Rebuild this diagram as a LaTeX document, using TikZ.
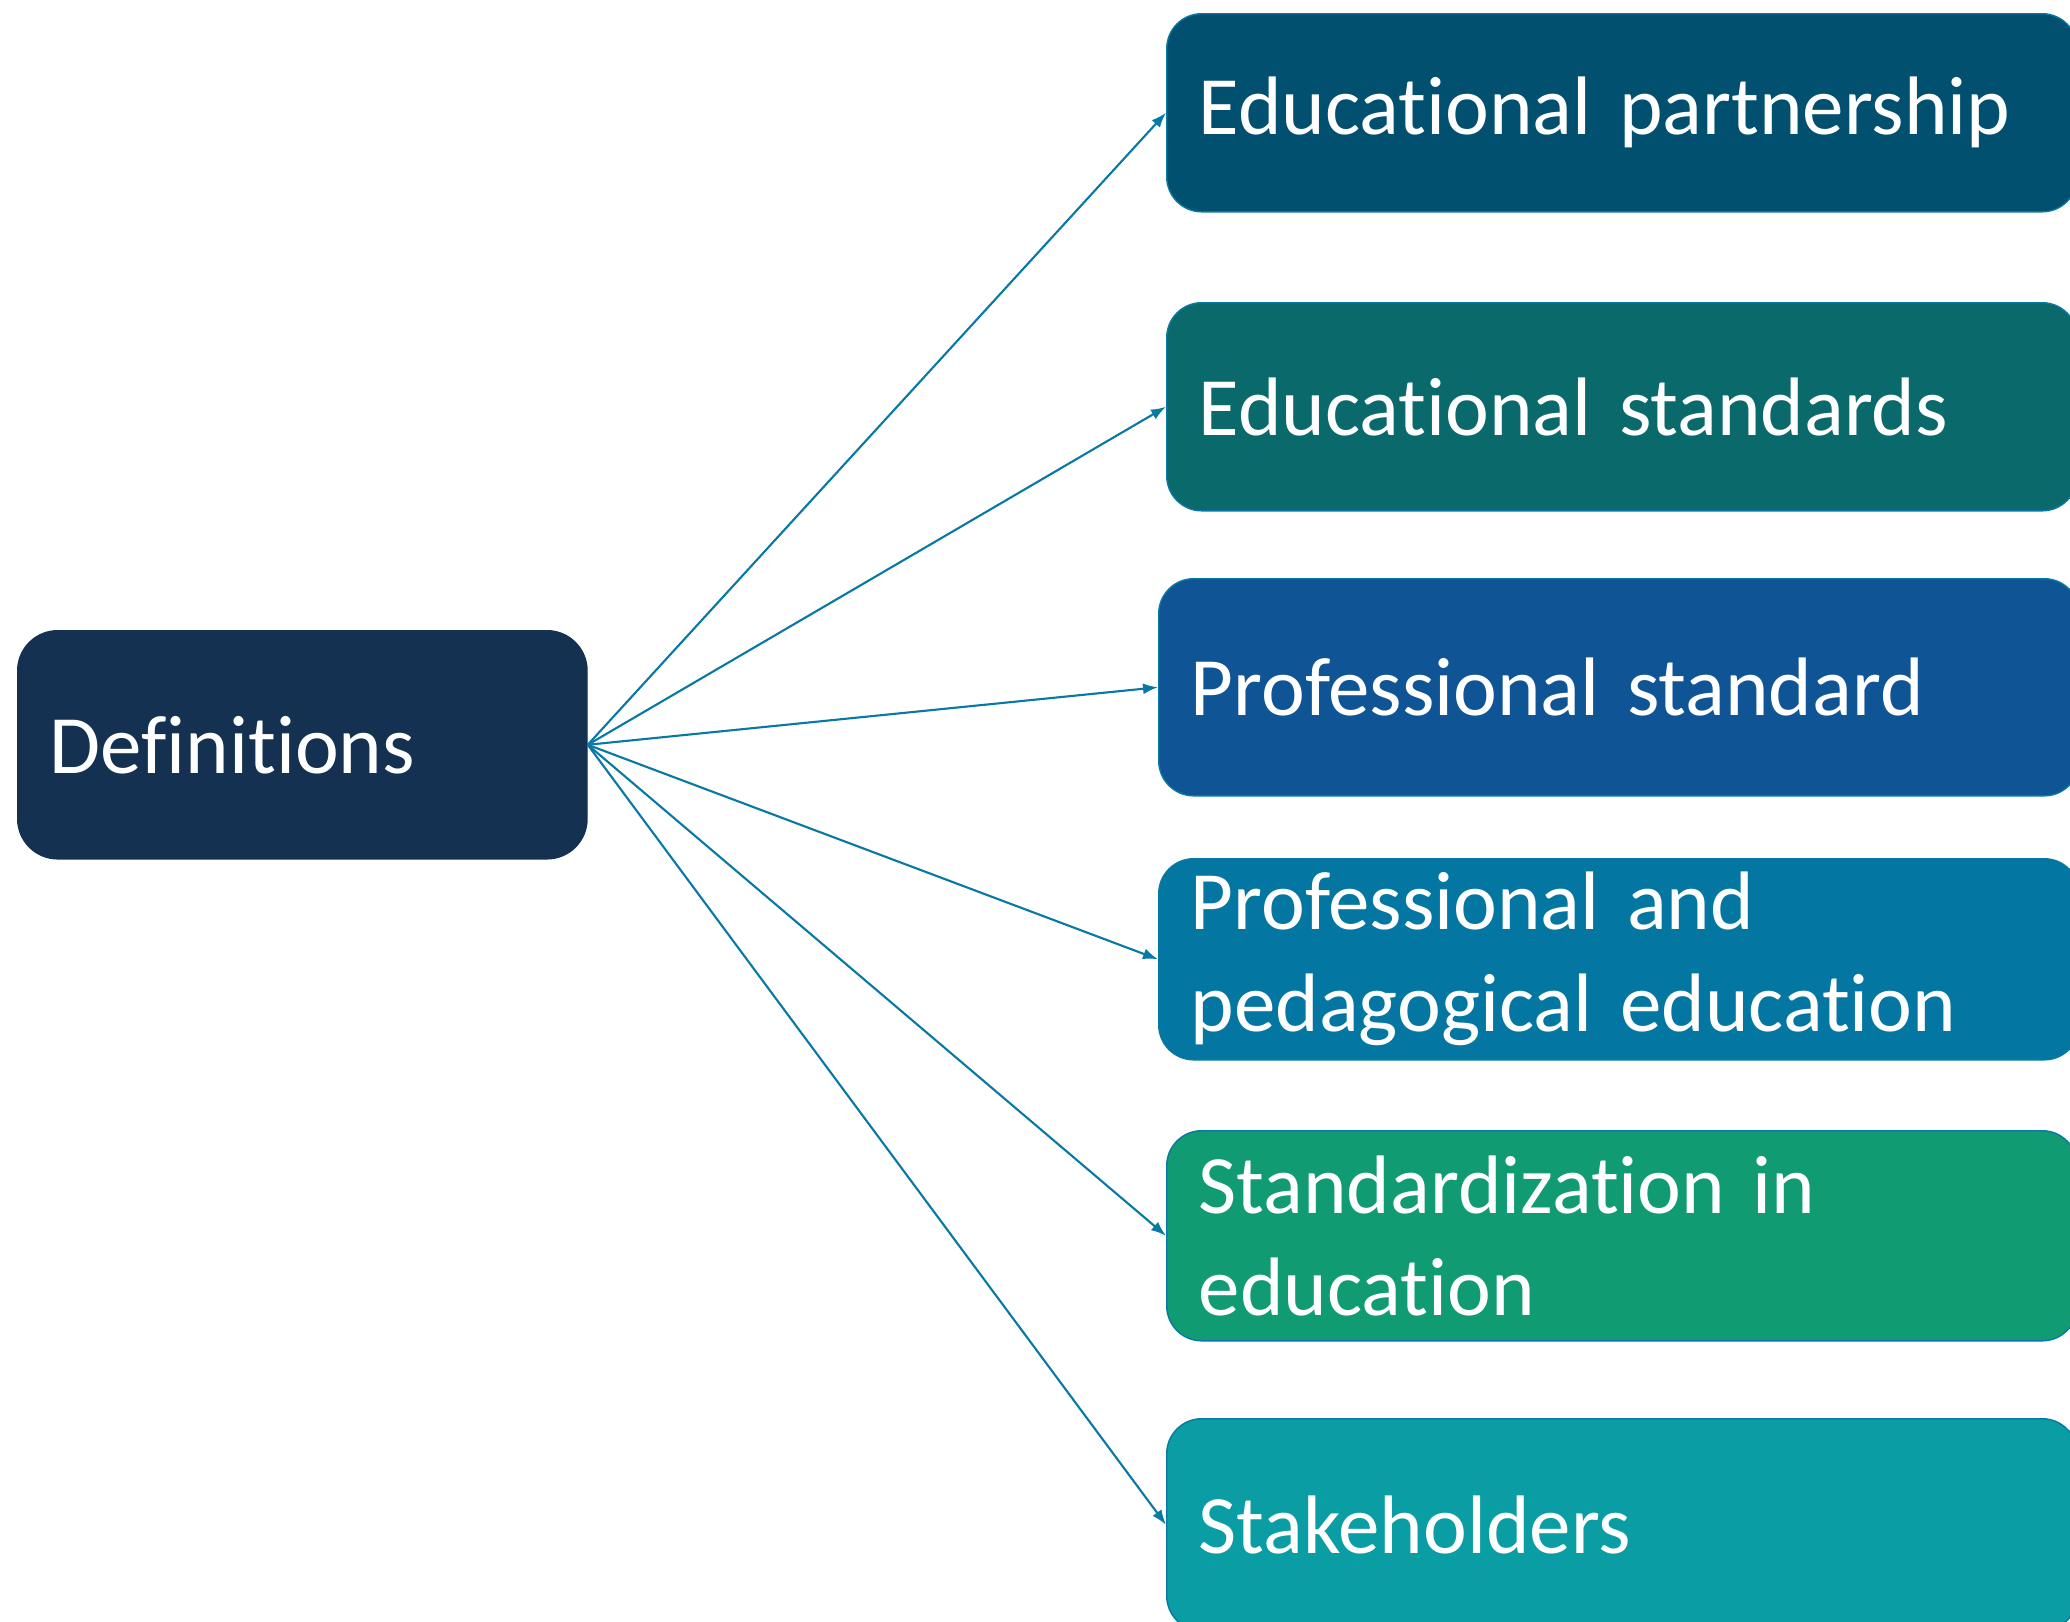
\documentclass[tikz,border=0pt]{standalone}
\usepackage{fontspec}
\setmainfont{Carlito}[Ligatures=NoCommon]
\usetikzlibrary{arrows.meta}
\hyphenpenalty=10000

\definecolor{defblue}{HTML}{143152}
\definecolor{partblue}{HTML}{01506F}
\definecolor{stdteal}{HTML}{0A696B}
\definecolor{profblue}{HTML}{0F5494}
\definecolor{pedblue}{HTML}{0376A1}
\definecolor{normgreen}{HTML}{109B72}
\definecolor{holdteal}{HTML}{0A9DA4}
\definecolor{linkblue}{HTML}{0878A4}

\tikzset{
  box/.style={rectangle,rounded corners=0.35cm,draw=linkblue,line width=0.4pt,
    text=white,align=left,anchor=north west,inner xsep=0.32cm,
    font=\fontsize{23.6}{29}\selectfont},
  link/.style={draw=linkblue,line width=0.6pt,-{Latex[length=1.5mm,width=1.1mm]}}
}

\begin{document}
\begin{tikzpicture}[x=0.01cm,y=-0.01cm]
              \clip (0,0) rectangle (2070,1621);
              %\draw[help lines,step=100] (0,0) grid (2070,1621);

              \node[box,fill=defblue,draw=defblue,rounded corners=0.4cm,
                minimum width=5.69cm,minimum height=2.28cm,text width=5.05cm]
                (def) at (17,630) {Definitions};

              \node[box,fill=partblue,minimum width=9.1cm,minimum height=1.98cm,text width=8.46cm]
                (part) at (1166,13) {Educational partnership};
              \node[box,fill=stdteal,minimum width=9.1cm,minimum height=2.08cm,text width=8.46cm]
                (std) at (1166,302) {Educational standards};
              \node[box,fill=profblue,minimum width=9.2cm,minimum height=2.17cm,text width=8.56cm]
                (prof) at (1158,578) {Professional standard};
              \node[box,fill=pedblue,minimum width=9.2cm,minimum height=2.01cm,text width=8.56cm]
                (ped) at (1158,858) {Professional and\\pedagogical education};
              \node[box,fill=normgreen,minimum width=9.1cm,minimum height=2.10cm,text width=8.46cm]
                (norm) at (1166,1130) {Standardization in\\education};
              \node[box,fill=holdteal,minimum width=9.1cm,minimum height=2.12cm,text width=8.46cm]
                (hold) at (1166,1418) {Stakeholders};

              \foreach\Target in {part,std,prof,ped,norm,hold}
                {\path[link] (def.east) -- (\Target.west);}
            \end{tikzpicture}
\end{document}
